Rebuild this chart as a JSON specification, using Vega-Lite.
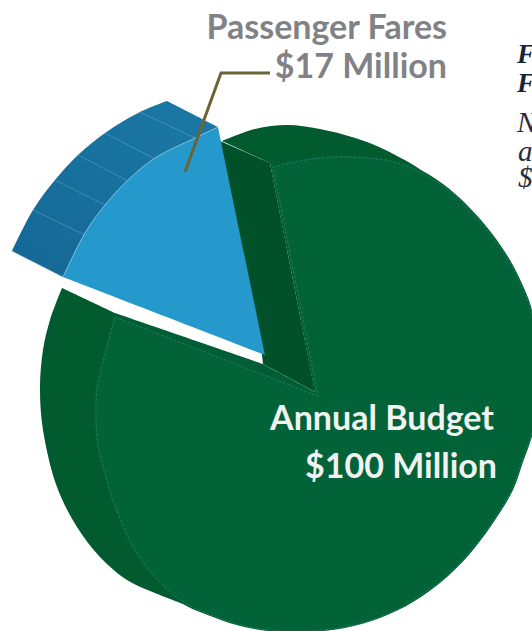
{"$schema":"https://vega.github.io/schema/vega-lite/v6.json","width":532,"height":631,"padding":0,"autosize":{"type":"none"},"background":"white","config":{"view":{"stroke":null}},
"datasets":{
"left":[{"i":0,"x":62,"y":288},{"i":1,"x":62,"y":288},{"i":2,"x":50,"y":320},{"i":3,"x":43,"y":350},{"i":4,"x":40,"y":387},{"i":5,"x":43,"y":430},{"i":6,"x":57,"y":487},{"i":7,"x":77,"y":527},{"i":8,"x":100,"y":557},{"i":9,"x":127,"y":580},{"i":10,"x":150,"y":591},{"i":11,"x":183,"y":604},{"i":12,"x":183,"y":604},{"i":13,"x":115,"y":313},{"i":14,"x":115,"y":313},{"i":15,"x":62,"y":288},{"i":16,"x":62,"y":288}],
"wall":[{"i":0,"x":220,"y":141},{"i":1,"x":270,"y":163},{"i":2,"x":315,"y":392},{"i":3,"x":263,"y":364},{"i":4,"x":262,"y":355},{"i":5,"x":220,"y":141}],
"topd":[{"i":0,"x":222,"y":141},{"i":1,"x":222,"y":141},{"i":2,"x":255,"y":129},{"i":3,"x":287,"y":125},{"i":4,"x":320,"y":129},{"i":5,"x":367,"y":142},{"i":6,"x":410,"y":163},{"i":7,"x":425,"y":173},{"i":8,"x":425,"y":173},{"i":9,"x":270,"y":163},{"i":10,"x":270,"y":163},{"i":11,"x":222,"y":141},{"i":12,"x":222,"y":141}],
"frontouter":[{"i":0,"x":270,"y":163},{"i":1,"x":270,"y":163},{"i":2,"x":300,"y":158},{"i":3,"x":333,"y":154},{"i":4,"x":367,"y":155},{"i":5,"x":392,"y":159},{"i":6,"x":417,"y":168},{"i":7,"x":443,"y":184},{"i":8,"x":467,"y":205},{"i":9,"x":490,"y":231},{"i":10,"x":510,"y":260},{"i":11,"x":524,"y":288},{"i":12,"x":532,"y":310},{"i":13,"x":537,"y":345},{"i":14,"x":538,"y":375},{"i":15,"x":533,"y":432},{"i":16,"x":523,"y":462},{"i":17,"x":513,"y":490},{"i":18,"x":497,"y":517},{"i":19,"x":473,"y":550},{"i":20,"x":447,"y":577},{"i":21,"x":413,"y":602},{"i":22,"x":380,"y":618},{"i":23,"x":345,"y":628},{"i":24,"x":310,"y":632},{"i":25,"x":280,"y":632},{"i":26,"x":260,"y":630},{"i":27,"x":233,"y":624},{"i":28,"x":213,"y":617},{"i":29,"x":183,"y":604},{"i":30,"x":157,"y":583},{"i":31,"x":133,"y":553},{"i":32,"x":113,"y":507},{"i":33,"x":102,"y":470},{"i":34,"x":96,"y":445},{"i":35,"x":93,"y":420},{"i":36,"x":94,"y":390},{"i":37,"x":103,"y":350},{"i":38,"x":115,"y":313},{"i":39,"x":115,"y":313},{"i":40,"x":263,"y":364},{"i":41,"x":263,"y":364},{"i":42,"x":315,"y":392},{"i":43,"x":315,"y":392},{"i":44,"x":270,"y":163},{"i":45,"x":270,"y":163}],
"frontinner":[{"i":0,"x":273,"y":167},{"i":1,"x":273,"y":167},{"i":2,"x":300,"y":161},{"i":3,"x":333,"y":157},{"i":4,"x":367,"y":158},{"i":5,"x":391,"y":161},{"i":6,"x":416,"y":170},{"i":7,"x":442,"y":185},{"i":8,"x":466,"y":206},{"i":9,"x":489,"y":232},{"i":10,"x":509,"y":261},{"i":11,"x":523,"y":289},{"i":12,"x":531,"y":311},{"i":13,"x":536,"y":345},{"i":14,"x":537,"y":375},{"i":15,"x":532,"y":432},{"i":16,"x":522,"y":461},{"i":17,"x":512,"y":489},{"i":18,"x":496,"y":516},{"i":19,"x":472,"y":549},{"i":20,"x":446,"y":576},{"i":21,"x":412,"y":601},{"i":22,"x":380,"y":617},{"i":23,"x":345,"y":627},{"i":24,"x":310,"y":631},{"i":25,"x":280,"y":631},{"i":26,"x":260,"y":629},{"i":27,"x":233,"y":623},{"i":28,"x":213,"y":616},{"i":29,"x":183,"y":602},{"i":30,"x":158,"y":580},{"i":31,"x":135,"y":550},{"i":32,"x":115,"y":506},{"i":33,"x":104,"y":470},{"i":34,"x":98,"y":445},{"i":35,"x":96,"y":420},{"i":36,"x":97,"y":390},{"i":37,"x":106,"y":350},{"i":38,"x":115,"y":317},{"i":39,"x":115,"y":317},{"i":40,"x":318,"y":396},{"i":41,"x":318,"y":396},{"i":42,"x":273,"y":167},{"i":43,"x":273,"y":167}],
"blueside":[{"i":0,"x":12,"y":251},{"i":1,"x":12,"y":251},{"i":2,"x":33,"y":210},{"i":3,"x":55,"y":180},{"i":4,"x":78,"y":155},{"i":5,"x":105,"y":133},{"i":6,"x":140,"y":112},{"i":7,"x":167,"y":101},{"i":8,"x":167,"y":101},{"i":9,"x":218,"y":127},{"i":10,"x":218,"y":127},{"i":11,"x":195,"y":138},{"i":12,"x":155,"y":158},{"i":13,"x":128,"y":180},{"i":14,"x":105,"y":205},{"i":15,"x":85,"y":233},{"i":16,"x":63,"y":277},{"i":17,"x":63,"y":277},{"i":18,"x":12,"y":251},{"i":19,"x":12,"y":251}],
"blueface":[{"i":0,"x":63,"y":277},{"i":1,"x":63,"y":277},{"i":2,"x":85,"y":233},{"i":3,"x":105,"y":205},{"i":4,"x":128,"y":180},{"i":5,"x":155,"y":158},{"i":6,"x":195,"y":138},{"i":7,"x":218,"y":127},{"i":8,"x":218,"y":127},{"i":9,"x":265,"y":355},{"i":10,"x":265,"y":355},{"i":11,"x":63,"y":277},{"i":12,"x":63,"y":277}],
"bluearc":[{"i":0,"x":63,"y":277},{"i":1,"x":85,"y":233},{"i":2,"x":105,"y":205},{"i":3,"x":128,"y":180},{"i":4,"x":155,"y":158},{"i":5,"x":195,"y":138},{"i":6,"x":218,"y":127}],
"seams":[{"n":"a","i":0,"x":12,"y":251},{"n":"a","i":1,"x":63,"y":277},{"n":"b","i":0,"x":33,"y":210},{"n":"b","i":1,"x":85,"y":235},{"n":"c","i":0,"x":55,"y":180},{"n":"c","i":1,"x":105,"y":205},{"n":"d","i":0,"x":78,"y":155},{"n":"d","i":1,"x":128,"y":181},{"n":"e","i":0,"x":105,"y":133},{"n":"e","i":1,"x":155,"y":159},{"n":"f","i":0,"x":140,"y":112},{"n":"f","i":1,"x":195,"y":138}],
"leader":[{"i":0,"x":185,"y":172},{"i":1,"x":221,"y":73},{"i":2,"x":270,"y":73}],
"greytext":[{"t":"Passenger Fares","x":447,"y":39},{"t":"$17 Million","x":447,"y":78}],
"whitetext":[{"t":"Annual Budget","x":494,"y":430},{"t":"$100 Million","x":497,"y":478}],
"headtext":[{"t":"F","x":517,"y":63},{"t":"F","x":517,"y":92}],
"bodytext":[{"t":"N","x":517,"y":132},{"t":"a","x":518,"y":161},{"t":"$0","x":518,"y":187}]
},
"encoding":{"x":{"field":"x","type":"quantitative","axis":null,"scale":{"domain":[0,532],"nice":false,"zero":false}},"y":{"field":"y","type":"quantitative","axis":null,"scale":{"domain":[631,0],"nice":false,"zero":false}},"order":{"field":"i","type":"quantitative"}},
"layer":[
{"data":{"name":"left"},"mark":{"type":"line","interpolate":"catmull-rom","fill":"#025a2f","strokeWidth":0,"clip":true}},
{"data":{"name":"topd"},"mark":{"type":"line","interpolate":"catmull-rom","fill":"#025a2f","strokeWidth":0,"clip":true}},
{"data":{"name":"wall"},"mark":{"type":"line","fill":"#00512a","strokeWidth":0,"clip":true}},
{"data":{"name":"frontouter"},"mark":{"type":"line","interpolate":"catmull-rom","fill":"#015d35","strokeWidth":0,"clip":true}},
{"data":{"name":"frontinner"},"mark":{"type":"line","interpolate":"catmull-rom","fill":"#026338","stroke":"#4f9275","strokeWidth":0.5,"strokeDash":[3,1.5],"clip":true}},
{"data":{"name":"blueside"},"mark":{"type":"line","interpolate":"catmull-rom","fill":{"x1":0,"y1":1,"x2":1,"y2":0,"gradient":"linear","stops":[{"offset":0,"color":"#146795"},{"offset":1,"color":"#1b79a6"}]},"strokeWidth":0,"clip":true}},
{"data":{"name":"blueface"},"mark":{"type":"line","interpolate":"catmull-rom","fill":"#2599cc","strokeWidth":0,"clip":true}},
{"data":{"name":"seams"},"mark":{"type":"line","stroke":"#6ea8c7","strokeWidth":0.5,"clip":true},"encoding":{"detail":{"field":"n"}}},
{"data":{"name":"bluearc"},"mark":{"type":"line","interpolate":"catmull-rom","stroke":"#9cc9e0","strokeWidth":0.6,"clip":true}},
{"data":{"name":"leader"},"mark":{"type":"line","stroke":"#6b6434","strokeWidth":3,"strokeJoin":"miter","strokeCap":"butt","clip":true}},
{"data":{"name":"greytext"},"mark":{"type":"text","align":"right","baseline":"alphabetic","font":"Lato","fontWeight":"bold","fontSize":34,"fill":"#808285"},"encoding":{"text":{"field":"t"},"order":null}},
{"data":{"name":"whitetext"},"mark":{"type":"text","align":"right","baseline":"alphabetic","font":"Lato","fontWeight":"bold","fontSize":34,"fill":"#f1f2f2"},"encoding":{"text":{"field":"t"},"order":null}},
{"data":{"name":"headtext"},"mark":{"type":"text","align":"left","baseline":"alphabetic","font":"Liberation Serif","fontWeight":"bold","fontStyle":"italic","fontSize":27,"fill":"#1a2238"},"encoding":{"text":{"field":"t"},"order":null}},
{"data":{"name":"bodytext"},"mark":{"type":"text","align":"left","baseline":"alphabetic","font":"Liberation Serif","fontStyle":"italic","fontSize":29,"fill":"#2a2c3a"},"encoding":{"text":{"field":"t"},"order":null}}
]}
